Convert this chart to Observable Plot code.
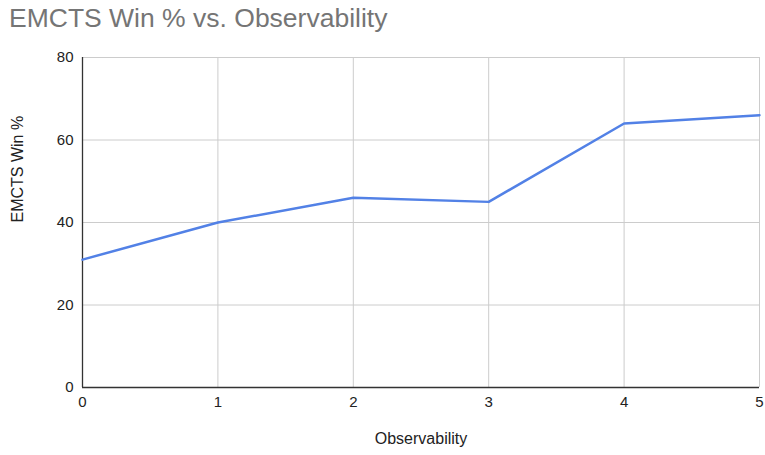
<!DOCTYPE html>
<html><head><meta charset="utf-8">
<script src="https://cdn.jsdelivr.net/npm/d3@7"></script>
<script src="https://cdn.jsdelivr.net/npm/@observablehq/plot@0.6"></script>
<style>
body{margin:0;background:#fff;font-family:"Liberation Sans",Arial,sans-serif;}
#title{height:40px;box-sizing:border-box;padding:3px 0 0 9px;font-size:26.5px;color:#757575;line-height:30px;}
</style></head><body>
<div id="title">EMCTS Win % vs. Observability</div>
<div id="chart"></div>
<script>
const observability = [0, 1, 2, 3, 4, 5];
const winPct = [31, 40, 46, 45, 64, 66];
const xTicks = [0, 1, 2, 3, 4, 5];
const yTicks = [0, 20, 40, 60, 80];

const data = observability.map((x, i) => ({x, y: winPct[i]}));

const chart = Plot.plot({
  width: 765,
  height: 415,
  marginTop: 17,
  marginBottom: 68,
  marginLeft: 82,
  marginRight: 6,
  style: {fontFamily: "Liberation Sans, Arial, sans-serif", fontSize: "15px", color: "#222", background: "#fff"},
  x: {domain: [0, 5], label: null},
  y: {domain: [0, 80], label: null},
  marks: [
    Plot.gridX(xTicks, {stroke: "#cccccc", strokeOpacity: 1, strokeWidth: 1}),
    Plot.gridY(yTicks, {stroke: "#cccccc", strokeOpacity: 1, strokeWidth: 1}),
    Plot.axisX({ticks: xTicks, tickFormat: "d", tickSize: 0, tickPadding: 9, label: null, fontSize: 15, fill: "#222"}),
    Plot.axisY({ticks: yTicks, tickFormat: "d", tickSize: 0, tickPadding: 9, label: null, fontSize: 15, fill: "#222"}),
    Plot.ruleY([0], {stroke: "#333", strokeWidth: 1.3}),
    Plot.ruleX([0], {stroke: "#333", strokeWidth: 1.3}),
    Plot.line(data, {x: "x", y: "y", stroke: "#5281e6", strokeWidth: 2.5}),
    Plot.text(["Observability"], {frameAnchor: "bottom", dy: 56, fontSize: 16, fill: "#222"}),
    Plot.text(["EMCTS Win %"], {frameAnchor: "left", dx: -65, rotate: -90, fontSize: 16, fill: "#222"})
  ]
});
document.getElementById("chart").appendChild(chart);
</script>
</body></html>
